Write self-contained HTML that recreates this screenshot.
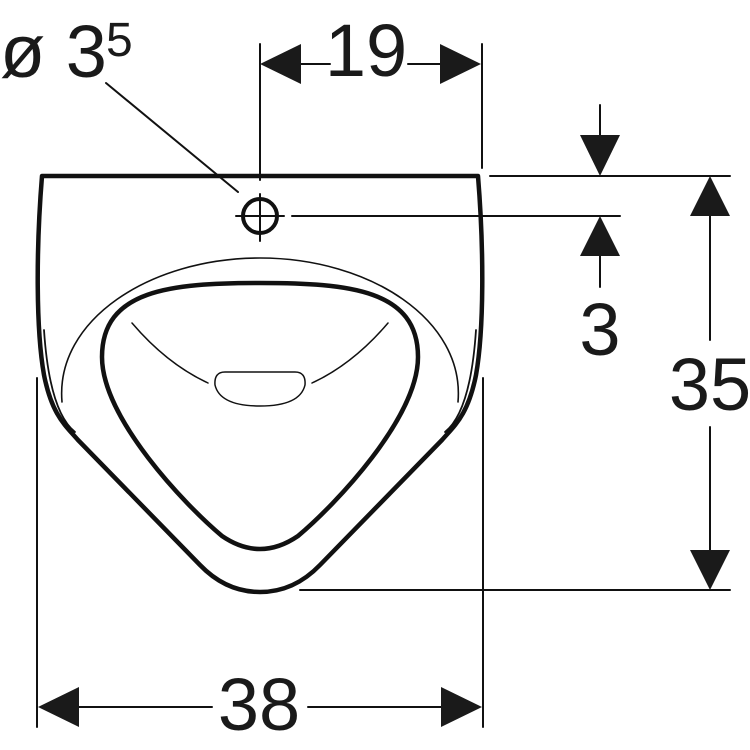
<!DOCTYPE html>
<html><head><style>html,body{margin:0;padding:0;background:#fff}svg{display:block}</style></head>
<body>
<svg width="750" height="750" viewBox="0 0 750 750" xmlns="http://www.w3.org/2000/svg" font-family="Liberation Sans, sans-serif" fill="#1a1a1a">
<g fill="none" stroke="#111" stroke-linecap="round" stroke-linejoin="round">
<path stroke-width="4.5" d="M42,176 L478,176 M42,176 C36,250 36,330 44,375 C52,415 65,425 78,440 L200,565 Q226,592 260,592 Q294,592 320,565 L442,440 C455,425 468,415 476,375 C484,330 484,250 478,176"/>
<path stroke-width="1.8" d="M44,330 C48,390 60,420 75,432 M476,330 C472,390 460,420 445,432"/>
<path stroke-width="1.6" d="M62,402 C55,320 150,258 260,258 C370,258 465,320 458,402"/>
<path stroke-width="4.5" d="M260,283 C350,283 418,290 418,357 C418,418 335,505 298,536 Q260,562 222,536 C185,505 102,418 102,357 C102,290 170,283 260,283Z"/>
<path stroke-width="1.5" d="M132,323 C155,350 180,370 208,383 M388,323 C365,350 340,370 312,383"/>
<path stroke-width="1.5" d="M225,372 L295,372 Q306,372 305,385 Q300,406 260,406 Q220,406 215,385 Q214,372 225,372Z"/>
<circle cx="260" cy="216" r="17" stroke-width="4"/>
<path stroke-width="2" d="M260,194 L260,241 M236,216 L284,216"/>
<g stroke-width="2">
<path d="M260,44 L260,180 M482,44 L482,168"/>
<path d="M300,64 L330,64 M408,64 L440,64"/>
<path d="M106,83 L238,192"/>
<path d="M490,176 L730,176 M292,216 L620,216 M300,590 L730,590"/>
<path d="M600,105 L600,140 M600,250 L600,287"/>
<path d="M710,210 L710,340 M710,427 L710,555"/>
<path d="M37,378 L37,727 M483,378 L483,727"/>
<path d="M78,707 L212,707 M308,707 L443,707"/>
</g>
</g>
<polygon points="260,64 301,44 301,84"/>
<polygon points="481,64 440,44 440,84"/>
<polygon points="600,176 580,135 620,135"/>
<polygon points="600,216 580,256 620,256"/>
<polygon points="710,176 690,216 730,216"/>
<polygon points="710,590 690,550 730,550"/>
<polygon points="38,707 79,687 79,727"/>
<polygon points="482,707 441,687 441,727"/>
<text x="366" y="76" font-size="74" text-anchor="middle">19</text>
<text x="0" y="77" font-size="74">ø 3</text>
<text x="106" y="56" font-size="48">5</text>
<text x="600" y="355" font-size="74" text-anchor="middle">3</text>
<text x="710" y="410" font-size="74" text-anchor="middle">35</text>
<text x="259" y="730" font-size="74" text-anchor="middle">38</text>
</svg>
</body></html>
